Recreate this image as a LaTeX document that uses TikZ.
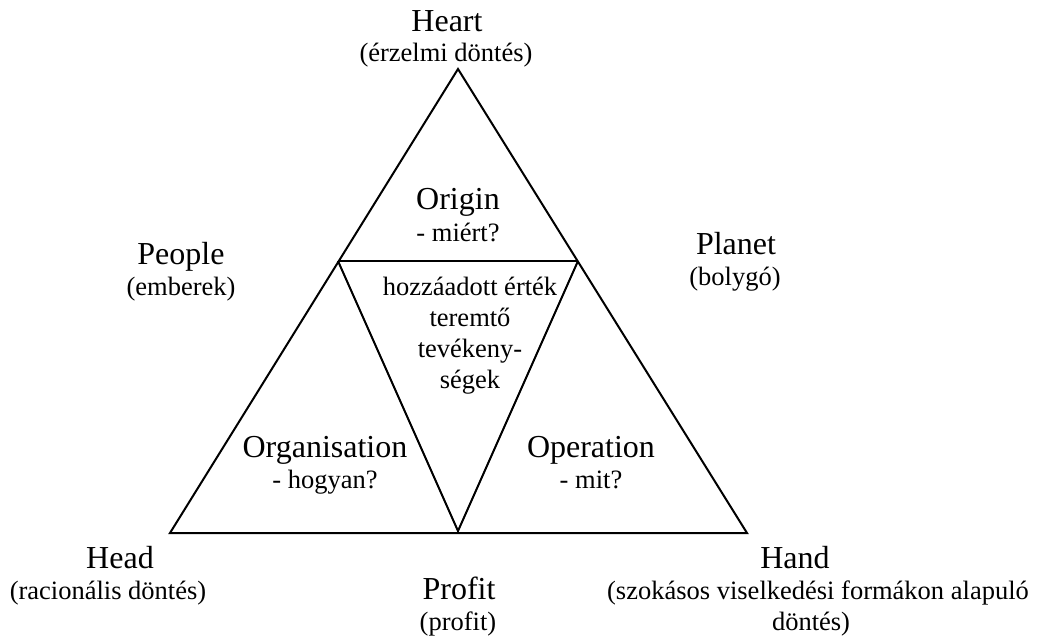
\documentclass[tikz,border=0pt]{standalone}
\usepackage{fontspec}
\setmainfont{Liberation Serif}
\begin{document}
\begin{tikzpicture}[x=1pt,y=-1pt,
  edge/.style={line width=2pt,line join=miter},
  title/.style={inner sep=0pt,anchor=base,font=\fontsize{32}{38}\selectfont},
  sub/.style={inner sep=0pt,anchor=base,font=\fontsize{26.5}{31}\selectfont}]
\useasboundingbox (0,0) rectangle (1042,639);
% triangle corners
\coordinate (apex) at (458,69);
\coordinate (bl) at (170,533);
\coordinate (br) at (747,533);
\coordinate (il) at (338,261);
\coordinate (ir) at (578,261);
\coordinate (ib) at (458,531);
% outer triangle and the inner inverted one
\draw[edge] (apex) -- (br) -- (bl) -- cycle;
\draw[edge] (il) -- (ir);
\draw[edge] (il) -- (ib) -- (ir);
% corner labels
\node[title] (heart) at (447,32) {Heart};
\node[sub] (heartsub) at (446,62) {(érzelmi döntés)};
\node[title] (people) at (181,265) {People};
\node[sub] (peoplesub) at (181,295) {(emberek)};
\node[title] (planet) at (736,255) {Planet};
\node[sub] (planetsub) at (735,286) {(bolygó)};
\node[title] (head) at (120,568) {Head};
\node[sub] (headsub) at (108,599) {(racionális döntés)};
\node[title] (profit) at (459,599) {Profit};
\node[sub] (profitsub) at (458,630) {(profit)};
\node[title] (hand) at (795,568) {Hand};
\node[sub] (handsub1) at (818,599) {(szokásos viselkedési formákon alapuló};
\node[sub] (handsub2) at (811,630) {döntés)};
% inner regions
\node[title] (origin) at (458,210) {Origin};
\node[sub] (originsub) at (458,242) {- miért?};
\node[sub] (mid1) at (470,295) {hozzáadott érték};
\node[sub] (mid2) at (470,326) {teremtő};
\node[sub] (mid3) at (470,357) {tevékeny-};
\node[sub] (mid4) at (470,388) {ségek};
\node[title] (organisation) at (325,457) {Organisation};
\node[sub] (organisationsub) at (325,488) {- hogyan?};
\node[title] (operation) at (591,457) {Operation};
\node[sub] (operationsub) at (591,488) {- mit?};
\end{tikzpicture}
\end{document}
